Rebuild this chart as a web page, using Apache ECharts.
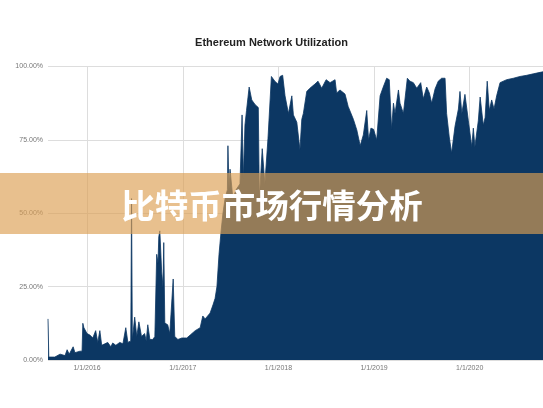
<!DOCTYPE html>
<html>
<head>
<meta charset="utf-8">
<script src="https://cdn.jsdelivr.net/npm/echarts@6/dist/echarts.min.js"></script>
<style>html,body{margin:0;padding:0;background:#fff;}#c{width:543px;height:408px;}</style>
</head>
<body>
<div id="c"></div>
<script>
const chartTitle = 'Ethereum Network Utilization';
const overlayText = '比特币市场行情分析';
const yTicks = [0, 25, 50, 75, 100];
const dates = [
'2015-08-05','2015-08-08','2015-08-31','2015-09-20','2015-10-09','2015-10-17','2015-10-25','2015-11-09','2015-11-16','2015-12-05','2015-12-13','2015-12-16','2015-12-20',
'2016-01-01','2016-01-12','2016-01-23','2016-02-03','2016-02-11','2016-02-19','2016-02-26','2016-03-09','2016-03-20','2016-04-01','2016-04-08','2016-04-20','2016-05-05','2016-05-17','2016-05-24','2016-05-28','2016-06-05','2016-06-16','2016-06-19','2016-06-22','2016-07-01','2016-07-09','2016-07-17','2016-07-27','2016-08-08','2016-08-14','2016-08-20','2016-08-28','2016-09-08','2016-09-16','2016-09-23','2016-09-28','2016-10-01','2016-10-05','2016-10-12','2016-10-17','2016-10-20','2016-10-24','2016-11-04','2016-11-12','2016-11-25','2016-12-01','2016-12-13','2016-12-28',
'2017-01-16','2017-01-29','2017-02-17','2017-03-08','2017-03-18','2017-03-27','2017-04-03','2017-04-15','2017-04-26','2017-05-04','2017-05-11','2017-05-19','2017-05-27','2017-06-03','2017-06-11','2017-06-20','2017-06-22','2017-06-26','2017-06-30','2017-07-11','2017-07-23','2017-08-07','2017-08-15','2017-08-20','2017-08-26','2017-09-01','2017-09-11','2017-09-21','2017-10-04','2017-10-16','2017-10-20','2017-10-31','2017-11-10','2017-11-22','2017-12-05','2017-12-18','2017-12-30',
'2018-01-07','2018-01-17','2018-01-26','2018-02-01','2018-02-08','2018-02-21','2018-02-27','2018-03-12','2018-03-24','2018-03-31','2018-04-06','2018-04-19','2018-05-01','2018-05-20','2018-06-01','2018-06-15','2018-07-02','2018-07-17','2018-08-05','2018-08-11','2018-08-24','2018-09-12','2018-09-24','2018-10-14','2018-10-27','2018-11-09','2018-11-21','2018-12-04','2018-12-11','2018-12-20','2018-12-30',
'2019-01-11','2019-01-24','2019-02-05','2019-02-18','2019-02-28','2019-03-09','2019-03-16','2019-03-22','2019-04-04','2019-04-10','2019-04-23','2019-05-08','2019-05-18','2019-05-31','2019-06-13','2019-06-28','2019-07-08','2019-07-21','2019-07-31','2019-08-09','2019-08-22','2019-09-03','2019-09-16','2019-09-29','2019-10-05','2019-10-15','2019-10-24','2019-11-06','2019-11-19','2019-11-25','2019-12-02','2019-12-14','2019-12-27',
'2020-01-09','2020-01-15','2020-01-21','2020-02-03','2020-02-10','2020-02-22','2020-02-29','2020-03-08','2020-03-16','2020-03-25','2020-04-03','2020-04-13','2020-04-26','2020-05-21','2020-06-16','2020-07-11','2020-08-06','2020-08-31','2020-09-26','2020-10-07'
];
const utilization = [
14,1,1,2,1.5,3.5,2,4.5,2.5,3,3,12.5,11,
9,8.5,7.5,10,6,10,5,5.5,6,4.5,5.8,5,6,5.5,6,11,6,6.5,55,7,14.6,8,13,8,9,6.5,12,7,7,8,36,33,42,44,30,25,40,12.6,12,9,27.6,8,7,7.5,
7.5,8.5,10,11,15,14,13.6,16,18.8,21,25,36,44,50,55,58,73,58,65,55,58,60,83.5,62,80,85,93,88.6,87,86,55,72,60,75.6,96.6,95,94,
96.6,97,90,89.5,84,90,83.5,81,71.6,82,84,91.5,92.6,94,95,92.6,95.5,94.5,95.5,91,92,90.6,86.4,82,78.4,73,76.7,85,75,79,78.6,
75,90,93,96,95.5,78.6,87.5,84,92,87.5,84,96,95,94.5,92.6,94.5,89,93,91,87.5,92.4,95,96,96,84,76,70.5,79.6,85.5,91.5,84,90.5,81.5,
72.7,79,72.7,81.5,89.6,80,82.6,95,85,88.6,85.5,90,94.5,95.5,96,96.6,97,97.5,98,98.2
];

const seriesData = dates.map((d, i) => [d, utilization[i]]);
const chart = echarts.init(document.getElementById('c'));
const YEAR = 365 * 24 * 3600 * 1000;
chart.setOption({
  backgroundColor: '#ffffff',
  animation: false,
  title: {
    text: chartTitle, left: 'center', top: 32,
    textStyle: { fontSize: 11, fontWeight: 'bold', color: '#222', fontFamily: 'Liberation Sans, Arial, sans-serif' }
  },
  grid: { left: 48, right: 0, top: 66.5, bottom: 48 },
  xAxis: {
    type: 'time', min: '2015-08-05', max: '2020-10-07',
    minInterval: YEAR, maxInterval: YEAR * 1.01,
    axisLine: { show: false }, axisTick: { show: false },
    splitLine: { show: true, showMinLine: false, showMaxLine: false, lineStyle: { color: '#dddddd', width: 1 } },
    axisLabel: {
      color: '#777', fontSize: 7, margin: 5, fontFamily: 'Liberation Sans, Arial, sans-serif',
      showMinLabel: false, showMaxLabel: false,
      formatter: function (v) { const d = new Date(v); return (d.getMonth() + 1) + '/' + d.getDate() + '/' + d.getFullYear(); }
    }
  },
  yAxis: {
    type: 'value', min: yTicks[0], max: yTicks[yTicks.length - 1], interval: 25,
    axisLine: { show: false }, axisTick: { show: false },
    splitLine: { lineStyle: { color: '#dddddd', width: 1 } },
    axisLabel: { color: '#777', fontSize: 7, margin: 5, fontFamily: 'Liberation Sans, Arial, sans-serif',
      formatter: v => v.toFixed(2) + '%' }
  },
  series: [{
    type: 'line', data: seriesData, showSymbol: false, symbol: 'none',
    lineStyle: { color: '#0c3763', width: 0.8 },
    areaStyle: { color: '#0c3763', opacity: 1 },
    z: 2
  }],
  graphic: [
    { type: 'rect', z: 100, shape: { x: 0, y: 173, width: 543, height: 61 },
      style: { fill: 'rgba(220,159,82,0.655)' } },
    { type: 'text', z: 101, x: 272, y: 205,
      style: { text: overlayText, fill: '#ffffff', font: 'bold 33.5px "Noto Sans CJK SC", sans-serif',
        textAlign: 'center', textVerticalAlign: 'middle' } }
  ]
});
</script>
</body>
</html>
